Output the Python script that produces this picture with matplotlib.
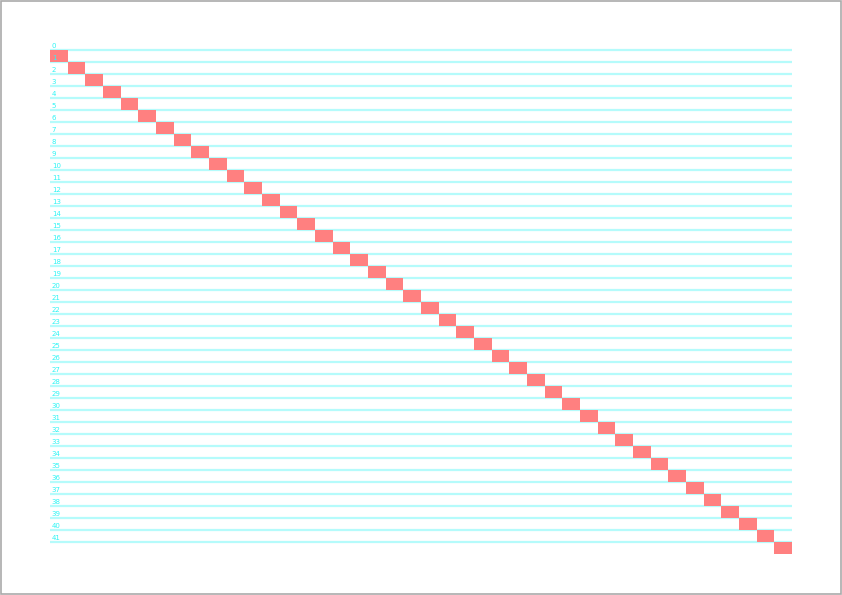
import matplotlib
matplotlib.use('Agg')
import matplotlib.pyplot as plt
from matplotlib.patches import Rectangle

# ==========================================
# data: one row per task, start / duration
# ==========================================
row_labels = [str(i) for i in range(42)]
starts = [0, 1, 2, 3, 4, 5, 6, 7, 8, 9, 10, 11, 12, 13, 14, 15, 16, 17, 18, 19, 20,
          21, 22, 23, 24, 25, 26, 27, 28, 29, 30, 31, 32, 33, 34, 35, 36, 37, 38, 39, 40, 41]
durations = [1] * 42

n_rows = len(row_labels)
x_max = 42

fig = plt.figure(figsize=(8.42, 5.95), dpi=100)
fig.patch.set_facecolor('white')
ax = fig.add_axes([50/842, 41/595, 742/842, 504/595])
ax.set_xlim(0, x_max)
ax.set_ylim(n_rows, 0)
ax.axis('off')

# row lines
for i in range(n_rows):
    ax.plot([0, x_max], [i, i], color='#b5fbfb', linewidth=1.6, zorder=1,
            solid_capstyle='butt', clip_on=False)

# row labels
for i, lab in enumerate(row_labels):
    ax.text(0.1, i - 0.12, lab, fontsize=5, color='#2ef5f5',
            va='bottom', ha='left', zorder=3, clip_on=False)

# bars
for i, (s, d) in enumerate(zip(starts, durations)):
    ax.add_patch(Rectangle((s, i), d, 1, facecolor='#ff8080', edgecolor='none', zorder=2))

# figure border
fig.add_artist(Rectangle((0.0006, 0.001), 0.9982, 0.998, transform=fig.transFigure,
                         fill=False, edgecolor='#aaaaaa', linewidth=1.2))

fig.savefig('out.png', dpi=100)
